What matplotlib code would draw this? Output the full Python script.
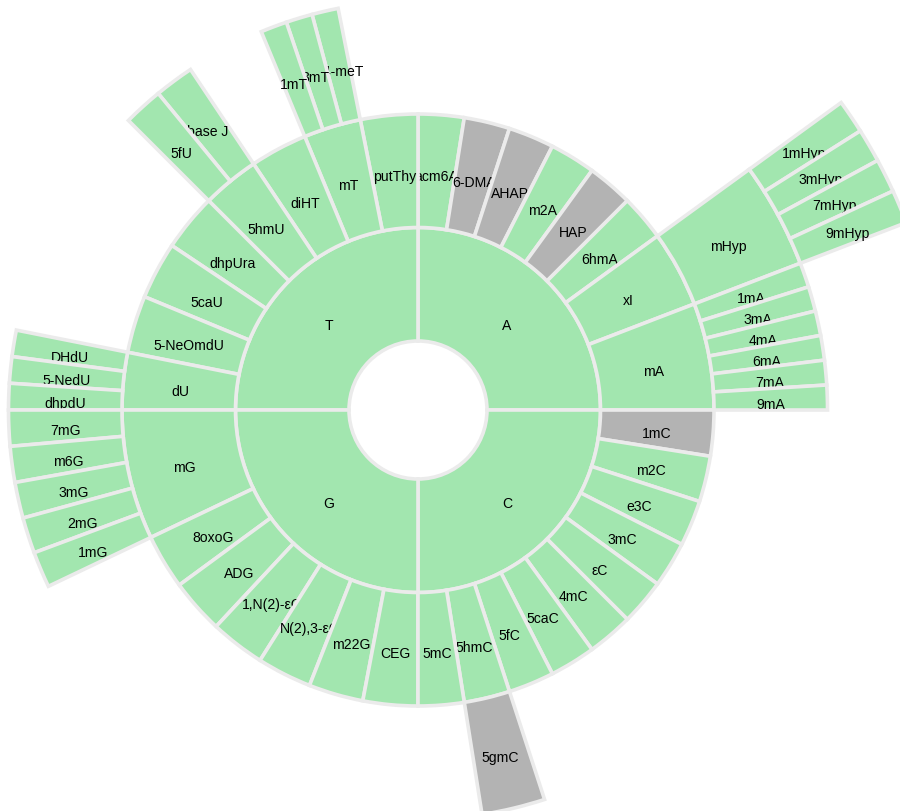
import numpy as np
import matplotlib
matplotlib.use("Agg")
import matplotlib.pyplot as plt
from matplotlib.patches import Wedge

plt.rcParams['font.family'] = ['Liberation Sans', 'DejaVu Sans']

# tree: parent -> child names, relative angular weights
top_nodes = ["A", "C", "G", "T"]
top_weights = [1, 1, 1, 1]

a_nodes = ["acm6A", "6-DMA", "AHAP", "m2A", "HAP", "6hmA", "xI", "mA"]
a_weights = [9, 9, 9, 9, 9, 9, 15, 21]

c_nodes = ["1mC", "m2C", "e3C", "3mC", "εC", "4mC", "5caC", "5fC", "5hmC", "5mC"]
c_weights = [1, 1, 1, 1, 1, 1, 1, 1, 1, 1]

g_nodes = ["CEG", "m22G", "N(2),3-εG", "1,N(2)-εG", "ADG", "8oxoG", "mG"]
g_weights = [10.75, 10.75, 10.75, 10.75, 10.75, 10.75, 25.5]

t_nodes = ["dU", "5-NeOmdU", "5caU", "dhpUra", "5hmU", "diHT", "mT", "putThy"]
t_weights = [1, 1, 1, 1, 1, 1, 1, 1]

ma_nodes = ["1mA", "3mA", "4mA", "6mA", "7mA", "9mA"]
xi_nodes = ["mHyp"]
mhyp_nodes = ["1mHyp", "3mHyp", "7mHyp", "9mHyp"]
hmc_nodes = ["5gmC"]
mg_nodes = ["1mG", "2mG", "3mG", "m6G", "7mG"]
du_nodes = ["dhpdU", "5-NedU", "DHdU"]
hmu_nodes = ["5fU", "base J"]
mt_nodes = ["1mT", "3mT", "O4-meT"]

grey_nodes = ["6-DMA", "AHAP", "HAP", "1mC", "5gmC"]

children = {
    "root": (top_nodes, top_weights),
    "A": (a_nodes, a_weights),
    "C": (c_nodes, c_weights),
    "G": (g_nodes, g_weights),
    "T": (t_nodes, t_weights),
    "mA": (ma_nodes, [1] * len(ma_nodes)),
    "xI": (xi_nodes, [1]),
    "mHyp": (mhyp_nodes, [1] * len(mhyp_nodes)),
    "5hmC": (hmc_nodes, [1]),
    "mG": (mg_nodes, [1] * len(mg_nodes)),
    "dU": (du_nodes, [1] * len(du_nodes)),
    "5hmU": (hmu_nodes, [1] * len(hmu_nodes)),
    "mT": (mt_nodes, [1] * len(mt_nodes)),
}

GREEN = '#a2e6af'
GREY = '#b3b3b3'
EDGE = '#ebebeb'
cx, cy = 418, 410
radii = [69, 182.5, 296, 409.5, 523]


def layout(name, a0, a1, depth, out):
    if name not in children:
        return
    names, w = children[name]
    w = np.array(w, dtype=float)
    edges = a0 + np.concatenate([[0], np.cumsum(w)]) / w.sum() * (a1 - a0)
    for i, n in enumerate(names):
        out.append((n, depth, edges[i], edges[i + 1]))
        layout(n, edges[i], edges[i + 1], depth + 1, out)


cells = []
layout("root", 0.0, 360.0, 0, cells)


def label_pos(depth, a0, a1):
    am = np.radians((a0 + a1) / 2)
    r = (radii[depth] + radii[depth + 1]) / 2
    return cx + r * np.sin(am), cy - r * np.cos(am)


# drawing order: ring by ring, top to bottom within a ring
cells.sort(key=lambda c: (c[1], label_pos(c[1], c[2], c[3])[1]))

fig = plt.figure(figsize=(9, 8.11), dpi=100)
ax = fig.add_axes([0, 0, 1, 1])
ax.set_xlim(0, 900)
ax.set_ylim(811, 0)
ax.set_aspect('equal')
ax.axis('off')

z = 1
for name, depth, a0, a1 in cells:
    color = GREY if name in grey_nodes else GREEN
    w = Wedge((cx, cy), radii[depth + 1], a0 - 90, a1 - 90,
              width=radii[depth + 1] - radii[depth],
              facecolor=color, edgecolor=EDGE, linewidth=2.6, zorder=z)
    ax.add_patch(w)
    x, y = label_pos(depth, a0, a1)
    ax.text(x, y + 9.4, name, ha='center', va='baseline', fontsize=10.08,
            color='black', zorder=z + 1)
    z += 2

fig.savefig("out.png", dpi=100)
